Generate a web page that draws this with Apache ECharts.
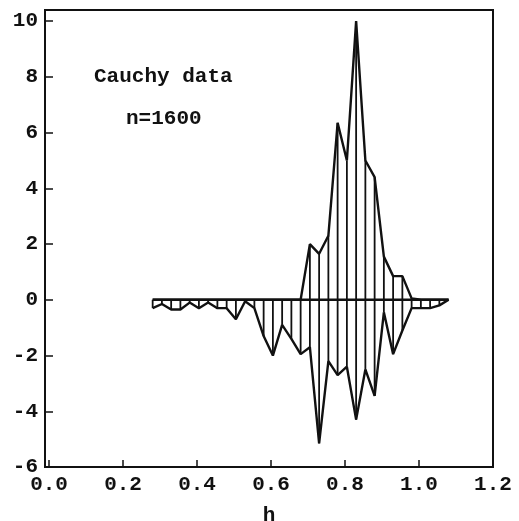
<!DOCTYPE html>
<html>
<head>
<meta charset="utf-8">
<title>Cauchy data, n=1600</title>
<script src="https://cdn.jsdelivr.net/npm/echarts@6/dist/echarts.min.js"></script>
<style>
  html, body { margin: 0; padding: 0; background: #fff; }
  #chart { width: 519px; height: 521px; }
</style>
</head>
<body>
<div id="chart"></div>
<script>
// Bandwidth grid h and the upper / lower envelopes of the criterion
const h = [0.28, 0.305, 0.33, 0.355, 0.38, 0.405, 0.43, 0.455, 0.48, 0.505,
           0.53, 0.555, 0.58, 0.605, 0.63, 0.655, 0.68, 0.705, 0.73, 0.755,
           0.78, 0.805, 0.83, 0.855, 0.88, 0.905, 0.93, 0.955, 0.98, 1.005,
           1.03, 1.055, 1.08];
const upper = [0, 0, 0, 0, 0, 0, 0, 0, 0, 0,
               0, 0, 0, 0, 0, 0, 0, 2.0, 1.65, 2.3,
               6.35, 5.0, 10.0, 5.0, 4.4, 1.55, 0.85, 0.85, 0.05, 0,
               0, 0, 0];
const lower = [-0.3, -0.15, -0.35, -0.35, -0.1, -0.3, -0.1, -0.3, -0.3, -0.7,
               -0.05, -0.3, -1.3, -2.0, -0.9, -1.4, -1.95, -1.7, -5.15, -2.2,
               -2.7, -2.4, -4.3, -2.5, -3.45, -0.45, -1.95, -1.1, -0.3, -0.3,
               -0.3, -0.2, 0];

const xTicks = [0.0, 0.2, 0.4, 0.6, 0.8, 1.0, 1.2];
const yTicks = [-6, -4, -2, 0, 2, 4, 6, 8, 10];

const font = '"Liberation Mono", "DejaVu Sans Mono", monospace';
const ink = '#111';

const chart = echarts.init(document.getElementById('chart'), null, { renderer: 'canvas' });

const upperLine = h.map((x, i) => [x, upper[i]]);
const lowerLine = h.map((x, i) => [x, lower[i]]);
const spans = h.map((x, i) => [x, lower[i], upper[i]]);
const baseline = [[h[0], 0], [h[h.length - 1], 0]];

const lineStyle = { color: ink, width: 2.4 };

chart.setOption({
  animation: false,
  backgroundColor: '#fff',
  grid: {
    left: 45, right: 26, top: 10, bottom: 54,
    containLabel: false,
    outerBoundsMode: 'none',
    show: true, borderColor: ink, borderWidth: 2, backgroundColor: 'transparent'
  },
  xAxis: {
    type: 'value',
    min: -0.011, max: 1.2,
    name: 'h',
    nameLocation: 'middle',
    nameGap: 38,
    nameTextStyle: { fontFamily: font, fontWeight: 'bold', fontSize: 21, color: ink },
    axisLine: { show: true, onZero: false, lineStyle: { color: ink, width: 2 } },
    axisTick: { show: true, inside: true, length: 7, customValues: xTicks, lineStyle: { color: ink, width: 1.5 } },
    axisLabel: {
      customValues: xTicks, margin: 7,
      fontFamily: font, fontWeight: 'bold', fontSize: 21, color: ink,
      formatter: v => v.toFixed(1)
    },
    splitLine: { show: false }
  },
  yAxis: {
    type: 'value',
    min: -6, max: 10.4,
    axisLine: { show: true, onZero: false, lineStyle: { color: ink, width: 2 } },
    axisTick: { show: true, inside: true, length: 8, customValues: yTicks, lineStyle: { color: ink, width: 1.5 } },
    axisLabel: {
      customValues: yTicks, margin: 7,
      fontFamily: font, fontWeight: 'bold', fontSize: 21, color: ink,
      formatter: v => String(v)
    },
    splitLine: { show: false }
  },
  graphic: [
    { type: 'text', left: 94, top: 66,
      style: { text: 'Cauchy data', font: 'bold 21px ' + font, fill: ink } },
    { type: 'text', left: 126, top: 108,
      style: { text: 'n=1600', font: 'bold 21px ' + font, fill: ink } }
  ],
  series: [
    {
      // vertical hatching between the two envelopes
      type: 'custom',
      data: spans,
      encode: { x: 0, y: [1, 2] },
      renderItem: (params, api) => {
        const x = api.value(0);
        const p1 = api.coord([x, api.value(1)]);
        const p2 = api.coord([x, api.value(2)]);
        return {
          type: 'line',
          shape: { x1: p1[0], y1: p1[1], x2: p2[0], y2: p2[1] },
          style: { stroke: ink, lineWidth: 1.8 }
        };
      },
      z: 2
    },
    { type: 'line', data: baseline, symbol: 'none', lineStyle: lineStyle, z: 3 },
    { type: 'line', data: upperLine, symbol: 'none', lineStyle: lineStyle, z: 3 },
    { type: 'line', data: lowerLine, symbol: 'none', lineStyle: lineStyle, z: 3 }
  ]
});
</script>
</body>
</html>
